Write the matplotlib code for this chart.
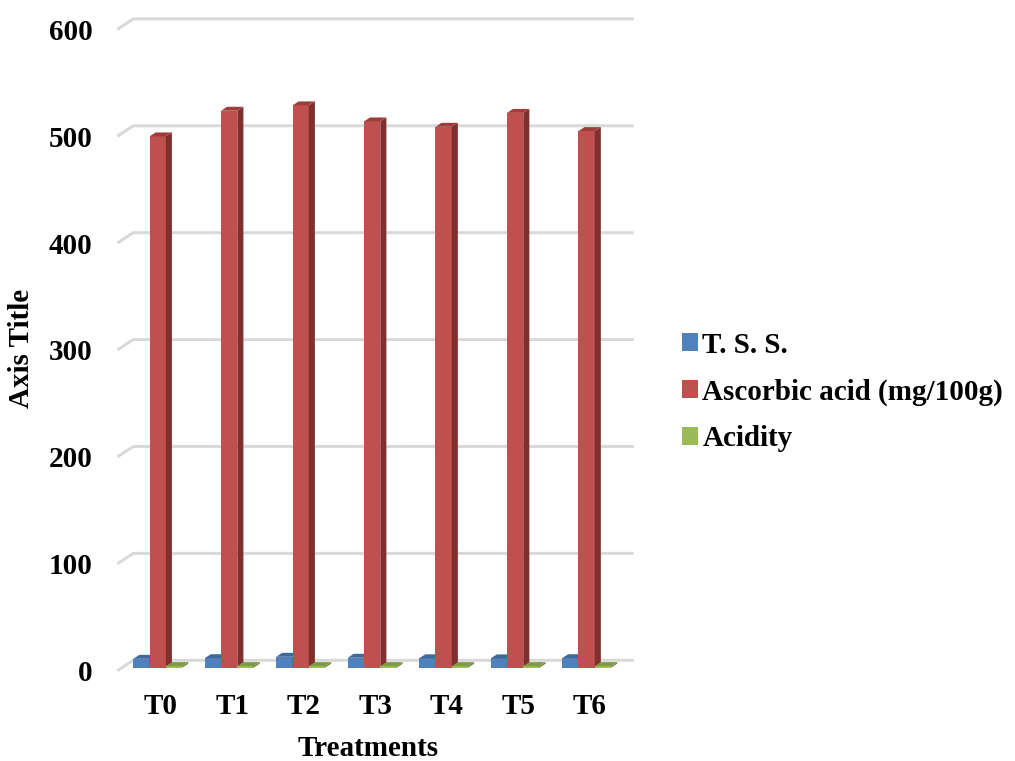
import matplotlib
matplotlib.use("Agg")
import matplotlib.pyplot as plt
from matplotlib.patches import Polygon, Patch

plt.rcParams['font.family'] = ['Liberation Serif', 'DejaVu Serif']
plt.rcParams['font.weight'] = 'bold'

# treatment data
treatments = ['T0', 'T1', 'T2', 'T3', 'T4', 'T5', 'T6']
tss = [8.3, 8.9, 10.2, 9.3, 8.8, 8.7, 8.9]
ascorbic = [497, 521, 526, 511, 506, 519, 502]
acidity = [1.5, 1.5, 1.5, 1.5, 1.5, 1.5, 1.5]
series_names = ['T. S. S.', 'Ascorbic acid (mg/100g)', 'Acidity']
y_ticks = [0, 100, 200, 300, 400, 500, 600]

# front / side / top shades for the 3d columns
front_cols = ['#4F81BD', '#C0504D', '#9BBB59']
side_cols = ['#385D8A', '#7F302E', '#6C843C']
top_cols = ['#3F6998', '#9E3E3B', '#7E9A45']

W, H = 1015, 761
fig = plt.figure(figsize=(W / 100, H / 100), dpi=100)
# axes = front plane of the chart box
x0, x1 = 117.3, 617.7
y0, y1 = 670.7, 29.3
ax = fig.add_axes([x0 / W, 1 - y0 / H, (x1 - x0) / W, (y0 - y1) / H])
ax.set_xlim(0, 7)
ax.set_ylim(0, 600)
for s in ax.spines.values():
    s.set_visible(False)

# depth of the box, in data units
px_x = 7 / (x1 - x0)
px_y = 600 / (y0 - y1)
DX = 16 * px_x
DY = 10.4 * px_y

# back wall gridlines with the slanted left part
for v in y_ticks:
    ax.plot([0, DX, 7 + DX], [v, v + DY, v + DY], color='#D9D9D9', lw=2.2,
            clip_on=False, zorder=0, solid_capstyle='butt')

f0, f1 = 0.29, 0.67  # columns sit in the middle of the depth
w = 16.3 * px_x
ddx = (f1 - f0) * DX
ddy = (f1 - f0) * DY

z = 2
for i in range(len(treatments)):
    for k, vals in enumerate([tss, ascorbic, acidity]):
        xc = i + 0.5 + (k - 1) * w + f0 * DX
        b = f0 * DY
        v = vals[i]
        ax.bar(xc, v, width=w, bottom=b, color=front_cols[k], zorder=z,
               clip_on=False, lw=0)
        xr = xc + w / 2
        xl = xc - w / 2
        side = Polygon([(xr, b), (xr + ddx, b + ddy), (xr + ddx, b + v + ddy), (xr, b + v)],
                       closed=True, facecolor=side_cols[k], lw=0, zorder=z, clip_on=False)
        top = Polygon([(xl, b + v), (xr, b + v), (xr + ddx, b + v + ddy), (xl + ddx, b + v + ddy)],
                      closed=True, facecolor=top_cols[k], lw=0, zorder=z, clip_on=False)
        ax.add_patch(side)
        ax.add_patch(top)
        z += 1

ax.set_yticks(y_ticks)
ax.set_yticklabels([str(t) for t in y_ticks], fontsize=21, fontweight='bold')
ax.set_xticks([i + 0.5 + 0.5 * DX for i in range(len(treatments))])
ax.set_xticklabels(treatments, fontsize=21, fontweight='bold')
ax.tick_params(axis='y', length=0, pad=18)
ax.tick_params(axis='x', length=0, pad=16)

fig.text(22 / W, 1 - 348 / H, 'Axis Title', rotation=90, ha='center', va='center',
         fontsize=21, fontweight='bold')
fig.text(368 / W, 1 - 748 / H, 'Treatments', ha='center', va='center',
         fontsize=21, fontweight='bold')

handles = [Patch(facecolor=c, edgecolor='none') for c in front_cols]
fig.legend(handles, series_names, loc='center left',
           bbox_to_anchor=(682 / W, 1 - 392 / H), frameon=False,
           prop={'size': 21, 'weight': 'bold'}, handlelength=0.55, handleheight=0.55,
           handletextpad=0.15, labelspacing=0.68, borderaxespad=0, borderpad=0)

fig.savefig('out.png', dpi=100)
